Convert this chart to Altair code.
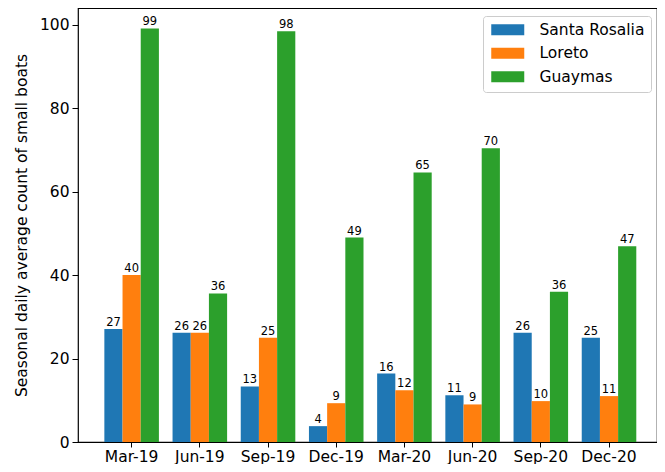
import altair as alt
import pandas as pd

seasons = ["Mar-19", "Jun-19", "Sep-19", "Dec-19", "Mar-20", "Jun-20", "Sep-20", "Dec-20"]
ports = ["Santa Rosalia", "Loreto", "Guaymas"]
santa_rosalia = [27.1, 26.2, 13.3, 3.8, 16.4, 11.2, 26.2, 25.0]
loreto = [40.0, 26.2, 25.0, 9.3, 12.4, 9.0, 9.8, 11.0]
guaymas = [99.1, 35.6, 98.4, 49.0, 64.6, 70.4, 36.0, 46.9]
colors = ["#1f77b4", "#ff7f0e", "#2ca02c"]

rows = []
for port, vals in zip(ports, [santa_rosalia, loreto, guaymas]):
    for s, v in zip(seasons, vals):
        rows.append({"season": s, "port": port, "value": v})
df = pd.DataFrame(rows)

FONT = "DejaVu Sans"

x_enc = alt.X("season:N", sort=seasons, title=None,
              scale=alt.Scale(paddingInner=0.2, paddingOuter=0.345, align=0.56),
              axis=alt.Axis(labelAngle=0, labelFontSize=15.5, labelFont=FONT,
                            labelColor="black", tickColor="black", tickSize=5,
                            labelPadding=2, domain=False))
xoff = alt.XOffset("port:N", sort=ports, scale=alt.Scale(domain=ports, paddingInner=0, paddingOuter=0))

bars = alt.Chart().mark_bar().encode(
    x=x_enc,
    xOffset=xoff,
    y=alt.Y("value:Q", title="Seasonal daily average count of small boats",
            scale=alt.Scale(domain=[0, 104], nice=False, zero=True),
            axis=alt.Axis(values=[0, 20, 40, 60, 80, 100], grid=False, domain=False,
                          labelFontSize=15.5, labelFont=FONT, labelColor="black",
                          tickColor="black", tickSize=6, labelPadding=3,
                          titleFontSize=15.5, titleFont=FONT, titleFontWeight="normal",
                          titleColor="black", titlePadding=10)),
    color=alt.Color("port:N", sort=ports,
                    scale=alt.Scale(domain=ports, range=colors),
                    legend=alt.Legend(title=None, orient="none", legendX=405, legendY=8,
                                      labelFontSize=15.5, labelFont=FONT, labelColor="black",
                                      symbolType="M-1,-1H5V1H-1Z", symbolSize=121,
                                      symbolStrokeWidth=0, symbolOpacity=1,
                                      labelOffset=35, rowPadding=6.5, padding=6,
                                      strokeColor="#cccccc", fillColor="white",
                                      cornerRadius=3)),
)

text = alt.Chart().mark_text(baseline="bottom", dy=-1, fontSize=11.5, font=FONT, color="black").encode(
    x=alt.X("season:N", sort=seasons),
    xOffset=alt.XOffset("port:N", sort=ports),
    y="value:Q",
    text=alt.Text("value:Q", format=".0f"),
)

chart = alt.layer(bars, text, data=df).properties(
    width=579, height=434,
    autosize=alt.AutoSizeParams(type="none"),
    padding={"left": 70, "top": 0, "right": 0, "bottom": 22},
).configure_view(stroke="black", strokeWidth=1.2)

chart.save("out.html", embed_options={"renderer": "svg", "actions": False})
